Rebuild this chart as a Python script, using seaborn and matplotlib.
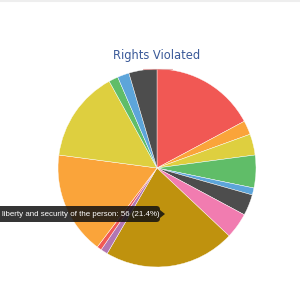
import matplotlib
matplotlib.use("Agg")
import matplotlib.pyplot as plt
import seaborn as sns
from matplotlib.patches import Polygon, FancyBboxPatch

# slices, clockwise from 12 o'clock
rights = [
    "Right to life", "Freedom of expression", "Freedom of assembly",
    "Right to fair trial", "Right to privacy", "Freedom of movement",
    "Freedom from torture", "liberty and security of the person",
    "Freedom of religion", "Right to property", "Freedom from discrimination",
    "Right to education", "Right to work", "Right to health", "Other",
]
counts = [45, 6, 9, 14, 3, 9, 11, 56, 3, 2, 44, 39, 4, 5, 12]
colors = [
    "#F15854", "#FAA43A", "#DECF3F", "#60BD68", "#5DA5DA", "#4D4D4D",
    "#F17CB0", "#BF920E", "#B276B2", "#F15854", "#FAA43A", "#DECF3F",
    "#60BD68", "#5DA5DA", "#4D4D4D",
]
tooltip_idx = 7

sns.set_theme(style="white")
plt.rcParams["font.family"] = ["Liberation Sans", "DejaVu Sans"]

fig = plt.figure(figsize=(3, 3), dpi=100)
ax = fig.add_axes([58 / 300, 33 / 300, 198 / 300, 198 / 300])
ax.pie(counts, colors=sns.color_palette(colors), startangle=90,
       counterclock=False, radius=1.0,
       wedgeprops=dict(edgecolor="white", linewidth=0.3))
ax.set_xlim(-1, 1)
ax.set_ylim(-1, 1)
ax.set_aspect("equal")
ax.axis("off")

# title (condensed face if there is one)
fig.text(157 / 300, 1 - 55 / 300, "Rights Violated",
         family=["Liberation Sans Narrow", "DejaVu Sans"],
         fontstretch="condensed", fontsize=9.2,
         color="#3B5A99", ha="center", va="center")
fig.add_artist(plt.Line2D([143 / 300, 172 / 300], [1 - 69 / 300] * 2,
                          color="#e09090", lw=0.8, alpha=0.7))
# faint top rule
fig.add_artist(plt.Line2D([0, 1], [1 - 1 / 300] * 2, color="#eeeeee", lw=1.5))

# tooltip
total = sum(counts)
label = f"{rights[tooltip_idx]}: {counts[tooltip_idx]} ({counts[tooltip_idx] / total * 100:.1f}%)"
box = FancyBboxPatch((-6 / 300, 1 - 222 / 300), 166 / 300, 16 / 300,
                     boxstyle="round,pad=0,rounding_size=0.012",
                     transform=fig.transFigure, facecolor="#111111",
                     alpha=0.85, edgecolor="none")
fig.add_artist(box)
fig.add_artist(Polygon([[160 / 300, 1 - 210 / 300], [165 / 300, 1 - 214 / 300],
                        [160 / 300, 1 - 218 / 300]], closed=True,
                       transform=fig.transFigure, facecolor="#111111",
                       alpha=0.85, edgecolor="none"))
fig.text(2 / 300, 1 - 214 / 300, label, color="white", fontsize=5.7,
         ha="left", va="center")

fig.savefig("out.png", dpi=100, facecolor="white")
